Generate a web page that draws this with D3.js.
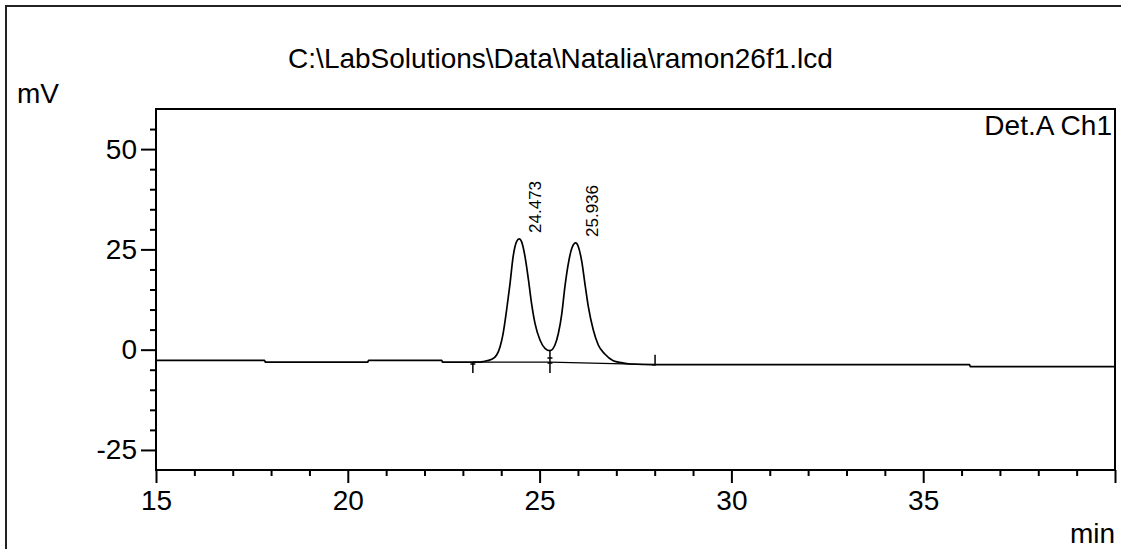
<!DOCTYPE html>
<html><head><meta charset="utf-8">
<script src="https://cdn.jsdelivr.net/npm/d3@7"></script>
<style>
body{margin:0;background:#fff}
svg{display:block}
text{font-family:"Liberation Sans",Arial,Helvetica,sans-serif;fill:#000}
</style>
</head><body>
<svg id="chart" width="1121" height="549"></svg>
<script>
// ---------------- data ----------------
const titleText = "C:\\LabSolutions\\Data\\Natalia\\ramon26f1.lcd";
const yUnit = "mV";
const xUnit = "min";
const channelLabel = "Det.A Ch1";

const times = [15.00, 17.83, 17.85, 20.52, 20.54, 22.45, 22.47, 23.40, 23.53, 23.75, 23.88, 23.97,
  24.05, 24.14, 24.23, 24.31, 24.40, 24.47, 24.53, 24.62, 24.71, 24.79, 24.88, 25.01, 25.14,
  25.27, 25.40, 25.49, 25.58, 25.66, 25.75, 25.84, 25.94, 26.01, 26.10, 26.18, 26.27, 26.40,
  26.53, 26.70, 26.92, 27.14, 27.36, 28.01, 36.21, 36.23, 40.00];
const signal = [-2.65, -2.65, -3.10, -3.10, -2.65, -2.65, -3.10, -3.10, -2.95, -2.40, -1.33, 0.74,
  4.08, 9.89, 16.55, 23.18, 26.92, 27.60, 26.92, 23.18, 17.37, 11.56, 6.57, 2.41, 0.34,
  -0.26, 1.16, 4.08, 9.07, 15.70, 21.53, 25.27, 26.60, 25.67, 21.93, 16.55, 10.71, 4.90,
  1.16, -1.08, -2.75, -3.25, -3.57, -3.74, -3.74, -4.24, -4.24];

const xDomain = [15, 40];
const yDomain = [-30, 60];
const xMajorTicks = [15, 20, 25, 30, 35, 40];
const xTickLabels = ["15", "20", "25", "30", "35", ""];
const xMinorTicks = [16,17,18,19,21,22,23,24,26,27,28,29,31,32,33,34,36,37,38,39];
const yMajorTicks = [-25, 0, 25, 50];
const yTickLabels = ["-25", "0", "25", "50"];
const yMinorTicks = [-20,-15,-10,-5,5,10,15,20,30,35,40,45,55];

const peakTimes = [24.473, 25.936];
const peakHeights = [27.6, 26.6];
const peakLabels = ["24.473", "25.936"];

const baselineTimes = [23.26, 25.27, 28.01];
const baselineValues = [-3.10, -3.10, -3.74];
const markerKinds = ["start", "valley", "end"];
const valleyValue = -0.26;

// ---------------- layout ----------------
const svg = d3.select("#chart");
const plot = {left: 156, top: 109, right: 1115, bottom: 470};
const x = d3.scaleLinear().domain(xDomain).range([plot.left, plot.right]);
const y = d3.scaleLinear().domain(yDomain).range([plot.bottom, plot.top]);
const ink = "#000";

// outer frame (cropped)
svg.append("path")
  .attr("d", `M6,549 V6 H1121`)
  .attr("fill", "none").attr("stroke", "#222").attr("stroke-width", 2);

// title & labels
svg.append("text").attr("x", 560.5).attr("y", 68).attr("text-anchor", "middle")
  .style("font-size", "28px").text(titleText);
svg.append("text").attr("x", 17).attr("y", 103).style("font-size", "28px").text(yUnit);
svg.append("text").attr("x", 1115).attr("y", 543).attr("text-anchor", "end")
  .style("font-size", "28px").text(xUnit);
svg.append("text").attr("x", 1112).attr("y", 135).attr("text-anchor", "end")
  .style("font-size", "28px").text(channelLabel);

// axes
function styleAxis(g) {
  g.select(".domain").remove();
  g.selectAll(".tick line").attr("stroke", ink).attr("stroke-width", 2);
  g.selectAll(".tick text").style("font-size", "28px").attr("fill", ink)
    .style("font-family", '"Liberation Sans",Arial,sans-serif');
}
svg.append("g").attr("transform", `translate(0,${plot.bottom})`)
  .call(d3.axisBottom(x).tickValues(xMinorTicks).tickSize(6).tickFormat(""))
  .call(styleAxis);
svg.append("g").attr("transform", `translate(0,${plot.bottom})`)
  .call(d3.axisBottom(x).tickValues(xMajorTicks).tickSize(13).tickPadding(7)
    .tickFormat((d, i) => xTickLabels[i]))
  .call(styleAxis);
svg.append("g").attr("transform", `translate(${plot.left},0)`)
  .call(d3.axisLeft(y).tickValues(yMinorTicks).tickSize(6).tickFormat(""))
  .call(styleAxis);
svg.append("g").attr("transform", `translate(${plot.left},0)`)
  .call(d3.axisLeft(y).tickValues(yMajorTicks).tickSize(15).tickPadding(4)
    .tickFormat((d, i) => yTickLabels[i]))
  .call(styleAxis);

// plot frame
svg.append("rect")
  .attr("x", plot.left).attr("y", plot.top)
  .attr("width", plot.right - plot.left).attr("height", plot.bottom - plot.top)
  .attr("fill", "none").attr("stroke", ink).attr("stroke-width", 2);

// signal
const pts = times.map((t, i) => [t, signal[i]]);
svg.append("path").datum(pts)
  .attr("fill", "none").attr("stroke", ink).attr("stroke-width", 1.7)
  .attr("stroke-linejoin", "round")
  .attr("d", d3.line().x(d => x(d[0])).y(d => y(d[1])).curve(d3.curveMonotoneX));

// integration baseline
svg.append("path").datum(baselineTimes.map((t, i) => [t, baselineValues[i]]))
  .attr("fill", "none").attr("stroke", ink).attr("stroke-width", 1.4)
  .attr("d", d3.line().x(d => x(d[0])).y(d => y(d[1])));

// integration markers
const mk = svg.append("g").attr("stroke", ink).attr("stroke-width", 1.5).attr("fill", "none");
baselineTimes.forEach((t, i) => {
  const px = x(t), py = y(baselineValues[i]);
  const kind = markerKinds[i];
  let d;
  if (kind === "start") {
    d = `M${px},${py} V${py + 11} M${px - 2.5},${py + 2} H${px + 2.5}`;
  } else if (kind === "valley") {
    const vy = y(valleyValue);
    d = `M${px},${vy} V${py + 11} M${px - 2.5},${py - 4} H${px + 2.5} M${px - 2.5},${py + 1} H${px + 2.5}`;
  } else {
    d = `M${px},${py} V${py - 10} M${px - 3},${py} H${px + 1}`;
  }
  mk.append("path").attr("d", d);
});

// peak labels
peakTimes.forEach((t, i) => {
  svg.append("text")
    .attr("transform", `translate(${x(t) + 22},${y(peakHeights[i]) - 6}) rotate(-90)`)
    .style("font-size", "17px")
    .text(peakLabels[i]);
});
</script>
</body></html>
